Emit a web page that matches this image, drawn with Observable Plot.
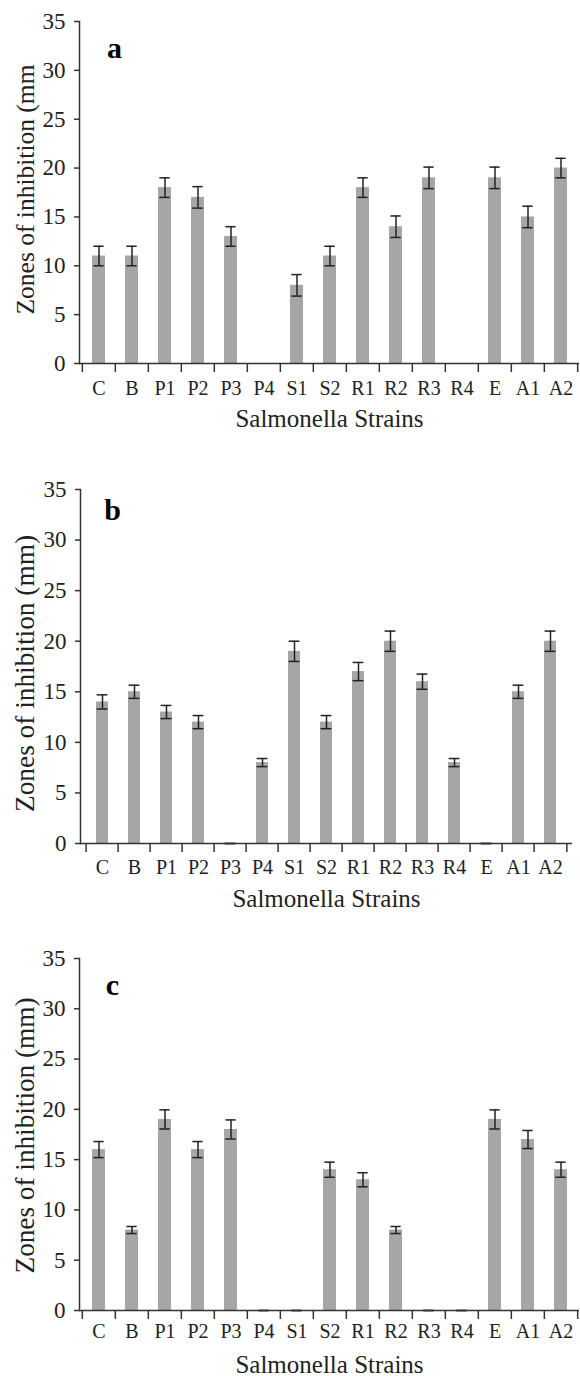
<!DOCTYPE html>
<html>
<head>
<meta charset="utf-8">
<script src="https://cdn.jsdelivr.net/npm/d3@7"></script>
<script src="https://cdn.jsdelivr.net/npm/@observablehq/plot@0.6"></script>
<style>
  html, body { margin: 0; padding: 0; background: #fff; }
  #chart svg { display: block; }
  #chart svg, #chart svg text { font-family: "Liberation Serif", "Times New Roman", Times, serif !important; }
</style>
</head>
<body>
<div id="chart"></div>
<script>
// ---- data ----
const strains = ["C","B","P1","P2","P3","P4","S1","S2","R1","R2","R3","R4","E","A1","A2"];
const yTicks = [0, 5, 10, 15, 20, 25, 30, 35];
const xTitle = "Salmonella Strains";

const zonesA = [11, 11, 18, 17, 13, 0, 8, 11, 18, 14, 19, 0, 19, 15, 20];
const errA   = [1, 1, 1, 1.1, 1, null, 1.1, 1, 1, 1.1, 1.1, null, 1.1, 1.1, 1];

const zonesB = [14, 15, 13, 12, 0, 8, 19, 12, 17, 20, 16, 8, 0, 15, 20];
const errB   = [0.7, 0.65, 0.65, 0.65, 0, 0.4, 1, 0.65, 0.9, 1, 0.75, 0.4, 0, 0.65, 1];

const zonesC = [16, 8, 19, 16, 18, 0, 0, 14, 13, 8, 0, 0, 19, 17, 14];
const errC   = [0.8, 0.35, 0.95, 0.8, 0.95, 0, 0, 0.75, 0.7, 0.35, 0, 0, 0.95, 0.9, 0.75];

const panels = [
  {letter: "a", yLabel: "Zones of inhibition (mm", values: zonesA, errs: errA,
   height: 440, mt: 21, mb: 77, ml: 79, mr: 1, letterDx: 35, letterDy: 27,
   yLabelLen: 250, yLabelFont: 26, yLabelDy: -3, tickDy: 25, titleDy: 55},
  {letter: "b", yLabel: "Zones of inhibition (mm)", values: zonesB, errs: errB,
   height: 480, mt: 49, mb: 77, ml: 80, mr: 8, letterDx: 32, letterDy: 21,
   yLabelLen: 277, yLabelFont: 27, yLabelDy: 7, tickDy: 24, titleDy: 55},
  {letter: "c", yLabel: "Zones of inhibition (mm)", values: zonesC, errs: errC,
   height: 456, mt: 38, mb: 66, ml: 79, mr: 1, letterDx: 33, letterDy: 27,
   yLabelLen: 276, yLabelFont: 27, yLabelDy: 1, tickDy: 21, titleDy: 54}
];

const W = 580;
const ink = "#222";
const barFill = "#a6a6a6";
const serif = "'Liberation Serif', 'Times New Roman', Times, serif";

function makePanel(p) {
  const rows = strains.map((s, i) => ({strain: s, v: p.values[i], e: p.errs[i]}));
  const withErr = rows.filter(d => d.e != null);
  const step = (W - p.ml - p.mr) / strains.length;
  const unit = (p.height - p.mt - p.mb) / 35;
  const tickLen = 9 / unit;
  const capInset = (step - 10) / 2;

  const svg = Plot.plot({
    width: W,
    height: p.height,
    marginTop: p.mt,
    marginBottom: p.mb,
    marginLeft: p.ml,
    marginRight: p.mr,
    style: {fontFamily: serif, background: "#fff", color: ink},
    x: {type: "band", domain: strains, paddingInner: 0.61, paddingOuter: 0.305, axis: null},
    y: {domain: [0, 35], axis: null},
    marks: [
      Plot.barY(rows, {x: "strain", y: "v", fill: barFill}),
      Plot.ruleX(withErr, {x: "strain", y1: d => d.v - d.e, y2: d => d.v + d.e, stroke: ink, strokeWidth: 1.5}),
      Plot.tickY(withErr, {x: "strain", y: d => d.v + d.e, insetLeft: capInset, insetRight: capInset, stroke: ink, strokeWidth: 1.5}),
      Plot.tickY(withErr, {x: "strain", y: d => d.v - d.e, insetLeft: capInset, insetRight: capInset, stroke: ink, strokeWidth: 1.5}),
      Plot.ruleY([0], {stroke: "#333", strokeWidth: 1.5}),
      Plot.frame({anchor: "left", stroke: "#333", strokeWidth: 1.5}),
      Plot.ruleX(strains, {x: d => d, y1: 0, y2: -tickLen, dx: -step / 2, stroke: "#333", strokeWidth: 1.5}),
      Plot.ruleX([strains[strains.length - 1]], {x: d => d, y1: 0, y2: -tickLen, dx: step / 2, stroke: "#333", strokeWidth: 1.5}),
      Plot.axisY({ticks: yTicks, tickSize: 5, tickPadding: 9, fontSize: 23, fontFamily: serif, label: null, stroke: "#333", strokeWidth: 1.5, tickFormat: d => d}),
      Plot.text(strains, {x: d => d, frameAnchor: "bottom", dy: p.tickDy, lineAnchor: "middle", textAnchor: "middle", fontSize: 20, fontFamily: serif, fill: ink}),
      Plot.text([xTitle], {frameAnchor: "bottom", dy: p.titleDy, lineAnchor: "middle", textAnchor: "middle", fontSize: 25, fontFamily: serif, fill: ink}),
      Plot.text([p.letter], {frameAnchor: "top-left", dx: p.letterDx, dy: p.letterDy, lineAnchor: "middle", textAnchor: "middle", fontSize: 30, fontWeight: "bold", fontFamily: serif, fill: "#000"}),
      Plot.text([p.yLabel], {frameAnchor: "left", dx: 25 - p.ml, dy: p.yLabelDy, rotate: -90, lineAnchor: "middle", textAnchor: "middle", fontSize: p.yLabelFont, fontFamily: serif, fill: ink})
    ]
  });

  svg.querySelectorAll("text").forEach(t => {
    if (t.textContent === p.yLabel) {
      t.setAttribute("textLength", p.yLabelLen);
      t.setAttribute("lengthAdjust", "spacingAndGlyphs");
    }
  });
  return svg;
}

const container = document.getElementById("chart");
panels.forEach(p => container.appendChild(makePanel(p)));
</script>
</body>
</html>
